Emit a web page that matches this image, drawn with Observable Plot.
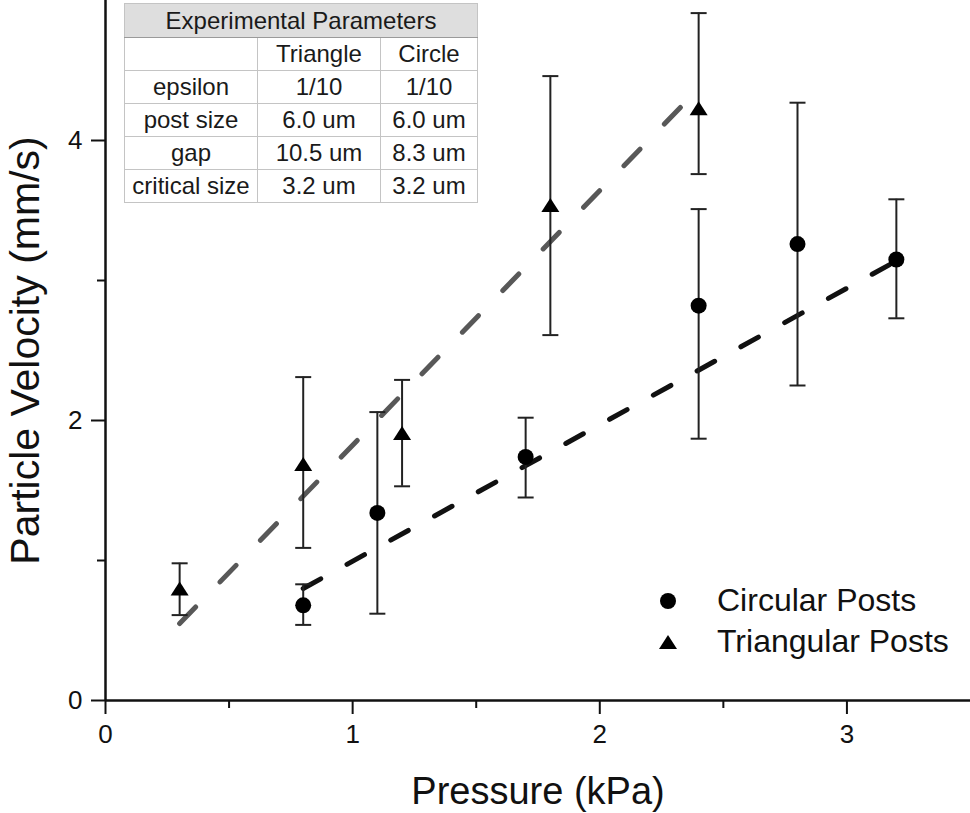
<!DOCTYPE html>
<html><head><meta charset="utf-8">
<script src="https://cdn.jsdelivr.net/npm/d3@7"></script>
<script src="https://cdn.jsdelivr.net/npm/@observablehq/plot@0.6"></script>
<style>
body{margin:0;background:#fff;font-family:"Liberation Sans",Arial,Helvetica,sans-serif;}
#wrap{position:relative;width:970px;height:813px;overflow:hidden;}
#params{position:absolute;left:124px;top:3px;border-collapse:collapse;font-size:24px;color:#1a1a1a;background:#fff;border:1.5px solid #8a8a8a;}
#params td{border:1px solid #c4c4c4;text-align:center;padding:0;height:32px;line-height:32px;white-space:nowrap;}
#params tr.head td{background:#dedede;border-bottom:1.5px solid #9a9a9a;}
#legend{position:absolute;left:650px;top:580px;font-size:32px;color:#111;line-height:41px;}
#legend .row{display:flex;align-items:center;height:41px;}
#legend svg{width:36px;height:20px;margin-right:31px;}
</style>
</head><body>
<div id="wrap"></div>
<script>
// ---- data ----
const circX    = [0.8, 1.1, 1.7, 2.4, 2.8, 3.2];
const circY    = [0.68, 1.34, 1.74, 2.82, 3.26, 3.15];
const circLow  = [0.54, 0.62, 1.45, 1.87, 2.25, 2.73];
const circHigh = [0.83, 2.06, 2.02, 3.51, 4.27, 3.58];

const triX    = [0.3, 0.8, 1.2, 1.8, 2.4];
const triY    = [0.80, 1.69, 1.91, 3.54, 4.23];
const triLow  = [0.61, 1.09, 1.53, 2.61, 3.76];
const triHigh = [0.98, 2.31, 2.29, 4.46, 4.91];

const circFitX = [0.8, 3.2];
const circFitY = [0.80, 3.14];
const triFitX  = [0.3, 2.4];
const triFitY  = [0.55, 4.37];

const xMajor = [0, 1, 2, 3];
const xMinor = [0.5, 1.5, 2.5];
const yMajor = [0, 2, 4];
const yMinor = [1, 3];

const tableTitle = "Experimental Parameters";
const tableCols = ["", "Triangle", "Circle"];
const tableRows = ["epsilon", "post size", "gap", "critical size"];
const tableTriangle = ["1/10", "6.0 um", "10.5 um", "3.2 um"];
const tableCircle = ["1/10", "6.0 um", "8.3 um", "3.2 um"];

const legendLabels = ["Circular Posts", "Triangular Posts"];

// ---- build records ----
const circ = circX.map((x, i) => ({x, y: circY[i], lo: circLow[i], hi: circHigh[i]}));
const tri = triX.map((x, i) => ({x, y: triY[i], lo: triLow[i], hi: triHigh[i]}));
const circFit = circFitX.map((x, i) => ({x, y: circFitY[i]}));
const triFit = triFitX.map((x, i) => ({x, y: triFitY[i]}));

const capSym = {draw(ctx, size){const r = Math.sqrt(size / Math.PI); ctx.moveTo(-r, 0); ctx.lineTo(r, 0);}};
const triSym = {draw(ctx, size){const r = Math.sqrt(size / Math.PI); ctx.moveTo(0, -0.78 * r); ctx.lineTo(r, 0.78 * r); ctx.lineTo(-r, 0.78 * r); ctx.closePath();}};

const font = "'Liberation Sans', Arial, Helvetica, sans-serif";
const fmt = (d) => String(d);

const chart = Plot.plot({
  width: 970,
  height: 813,
  marginLeft: 105,
  marginRight: 0,
  marginTop: 0,
  marginBottom: 113,
  style: {fontFamily: font, color: "#111", background: "#fff", overflow: "visible"},
  x: {domain: [0, 3.5]},
  y: {domain: [0, 5]},
  marks: [
    // fit lines
    Plot.line(triFit, {x: "x", y: "y", stroke: "#585858", strokeWidth: 5, strokeDasharray: "23,35", strokeLinecap: "round"}),
    Plot.line(circFit, {x: "x", y: "y", stroke: "#111", strokeWidth: 5, strokeDasharray: "20,30", strokeLinecap: "round"}),
    // error bars
    Plot.ruleX(circ, {x: "x", y1: "lo", y2: "hi", stroke: "#222", strokeWidth: 2}),
    Plot.ruleX(tri, {x: "x", y1: "lo", y2: "hi", stroke: "#222", strokeWidth: 2}),
    Plot.dot(circ, {x: "x", y: "lo", symbol: capSym, r: 8, stroke: "#222", strokeWidth: 2, fill: "none"}),
    Plot.dot(circ, {x: "x", y: "hi", symbol: capSym, r: 8, stroke: "#222", strokeWidth: 2, fill: "none"}),
    Plot.dot(tri, {x: "x", y: "lo", symbol: capSym, r: 8, stroke: "#222", strokeWidth: 2, fill: "none"}),
    Plot.dot(tri, {x: "x", y: "hi", symbol: capSym, r: 8, stroke: "#222", strokeWidth: 2, fill: "none"}),
    // markers
    Plot.dot(circ, {x: "x", y: "y", r: 8, fill: "#000", stroke: "none"}),
    Plot.dot(tri, {x: "x", y: "y", symbol: triSym, r: 9, fill: "#000", stroke: "none"}),
    // axes
    Plot.axisX({ticks: xMajor, tickFormat: fmt, tickSize: 14, tickPadding: 10, fontSize: 26, label: null, strokeWidth: 2, stroke: "#111"}),
    Plot.axisX({ticks: xMinor, tickSize: 8, tickFormat: () => "", label: null, strokeWidth: 2, stroke: "#111"}),
    Plot.axisY({ticks: yMajor, tickFormat: fmt, tickSize: 14, tickPadding: 9, fontSize: 26, label: null, strokeWidth: 2, stroke: "#111"}),
    Plot.axisY({ticks: yMinor, tickSize: 8, tickFormat: () => "", label: null, strokeWidth: 2, stroke: "#111"}),
    Plot.axisX({ticks: [], tickSize: 0, label: "Pressure (kPa)", labelAnchor: "center", labelOffset: 103, labelArrow: "none", fontSize: 38}),
    Plot.axisY({ticks: [], tickSize: 0, label: "Particle Velocity (mm/s)", labelAnchor: "center", labelOffset: 96, labelArrow: "none", fontSize: 41}),
    Plot.ruleY([0], {stroke: "#111", strokeWidth: 2.5}),
    Plot.ruleX([0], {stroke: "#111", strokeWidth: 2.5})
  ]
});

const wrap = document.getElementById("wrap");
wrap.appendChild(chart);

// parameter table
const table = document.createElement("table");
table.id = "params";
const colWidths = [132, 122, 96];
let tr = document.createElement("tr");
tr.className = "head";
let td = document.createElement("td");
td.colSpan = 3; td.textContent = tableTitle; td.style.height = "33px";
tr.appendChild(td); table.appendChild(tr);
tr = document.createElement("tr");
tableCols.forEach((c, j) => {const t = document.createElement("td"); t.textContent = c; t.style.width = colWidths[j] + "px"; t.style.maxWidth = colWidths[j] + "px"; tr.appendChild(t);});
table.appendChild(tr);
tableRows.forEach((name, i) => {
  const r = document.createElement("tr");
  [name, tableTriangle[i], tableCircle[i]].forEach((c) => {const t = document.createElement("td"); t.textContent = c; r.appendChild(t);});
  table.appendChild(r);
});
wrap.appendChild(table);

// legend
const legend = document.createElement("div");
legend.id = "legend";
const symbols = [
  '<svg viewBox="-18 -10 36 20"><circle r="8" fill="#000"/></svg>',
  '<svg viewBox="-18 -10 36 20"><path d="M0,-7L9,7L-9,7Z" fill="#000"/></svg>'
];
legendLabels.forEach((lab, i) => {
  const row = document.createElement("div");
  row.className = "row";
  row.innerHTML = symbols[i];
  const span = document.createElement("span");
  span.textContent = lab;
  row.appendChild(span);
  legend.appendChild(row);
});
wrap.appendChild(legend);
</script>
</body></html>
